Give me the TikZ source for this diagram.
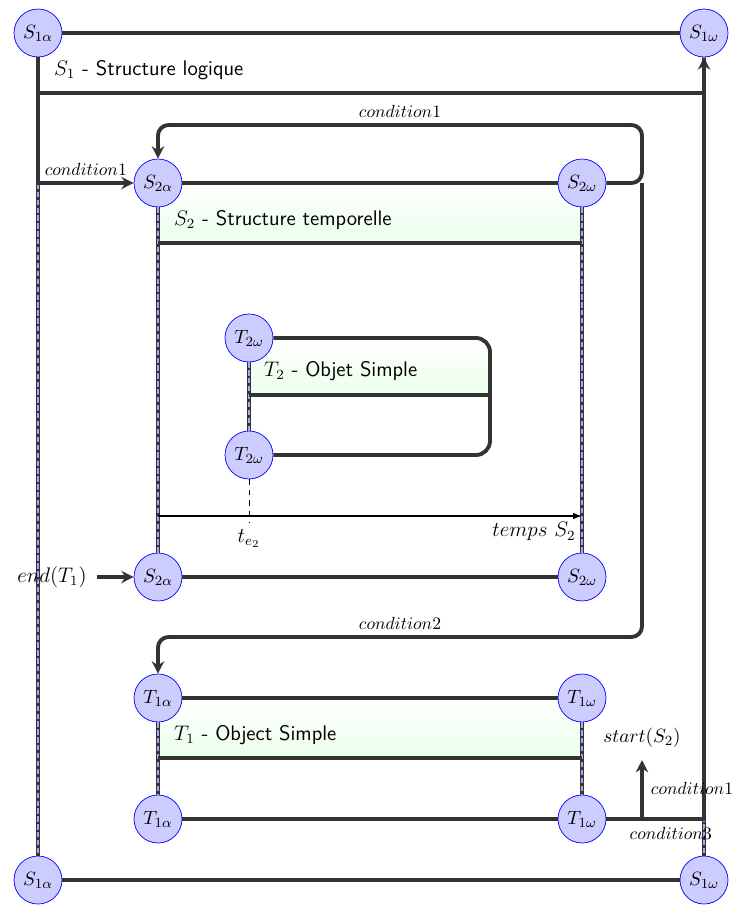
\documentclass[tikz,border=0pt]{standalone}
\usepackage{tikz}
\usetikzlibrary{arrows.meta,calc}

\begin{document}
\begin{tikzpicture}[x=0.02cm,y=-0.02cm,>={Stealth[length=7pt,width=7pt]},
    st/.style={circle,draw=blue,fill=blue!20,minimum size=0.96cm,inner sep=0pt,font=\fontsize{11}{13}\selectfont},
    flow/.style={line width=2.2pt,draw=black!80},
    life/.style={line width=2.4pt,draw=black!80,postaction={draw=blue!35,line width=0.8pt,dash pattern=on 3pt off 1.5pt}},
    band/.style={top color=white,bottom color=green!8,draw=none},
    lbl/.style={anchor=west,font=\sffamily\large},
    cnd/.style={font=\normalsize}]
    \useasboundingbox (0,0) rectangle (734,907);
    % green bands behind the titles
    \shade[band] (158,183) rectangle (582,243);
    \shade[band] (249,338) rectangle (490,395);
    \shade[band] (158,698) rectangle (582,758);
    % states
    \node[st] (s1a) at (38,33) {$S_{1\alpha}$};
    \node[st] (s1w) at (704,33) {$S_{1\omega}$};
    \node[st] (s1ab) at (38,880) {$S_{1\alpha}$};
    \node[st] (s1wb) at (704,880) {$S_{1\omega}$};
    \node[st] (s2a) at (158,183) {$S_{2\alpha}$};
    \node[st] (s2w) at (582,183) {$S_{2\omega}$};
    \node[st] (s2ab) at (158,577) {$S_{2\alpha}$};
    \node[st] (s2wb) at (582,577) {$S_{2\omega}$};
    \node[st] (t2w) at (249,338) {$T_{2\omega}$};
    \node[st] (t2wb) at (249,455) {$T_{2\omega}$};
    \node[st] (t1a) at (158,698) {$T_{1\alpha}$};
    \node[st] (t1w) at (582,698) {$T_{1\omega}$};
    \node[st] (t1ab) at (158,819) {$T_{1\alpha}$};
    \node[st] (t1wb) at (582,819) {$T_{1\omega}$};
    % lifetimes
    \draw[life] (s1a) -- (s1ab);
    \draw[life] (s1w) -- (s1wb);
    \draw[life] (s2a) -- (s2ab);
    \draw[life] (s2w) -- (s2wb);
    \draw[life] (t2w) -- (t2wb);
    \draw[life] (t1a) -- (t1ab);
    \draw[life] (t1w) -- (t1wb);
    % titles
    \node[lbl] (l1) at (48,70) {$S_1$ - Structure logique};
    \node[lbl] (l2) at (168,220) {$S_2$ - Structure temporelle};
    \node[lbl] (l3) at (258,371) {$T_2$ - Objet Simple};
    \node[lbl] (l4) at (168,735) {$T_1$ - Object Simple};
    % box lines
    \coordinate (b1l) at (38,93);
    \coordinate (b1r) at (704,93);
    \coordinate (b2l) at (158,243);
    \coordinate (b2r) at (582,243);
    \coordinate (b4l) at (158,758);
    \coordinate (b4r) at (582,758);
    \coordinate (t2c1) at (490,338);
    \coordinate (t2c2) at (490,455);
    \coordinate (t2m) at (490,395);
    \coordinate (t2l) at (249,395);
    \draw[flow] (s1a) -- (s1w);
    \draw[flow] (s1ab) -- (s1wb);
    \draw[flow] (b1l) -- (b1r);
    \draw[flow] (s2a) -- (s2w);
    \draw[flow] (s2ab) -- (s2wb);
    \draw[flow] (b2l) -- (b2r);
    \draw[flow] (t1a) -- (t1w);
    \draw[flow] (t1ab) -- (t1wb);
    \draw[flow] (b4l) -- (b4r);
    \draw[flow,rounded corners=8pt] (t2w) -- (t2c1) -- (t2c2) -- (t2wb);
    \draw[flow] (t2l) -- (t2m);
    % conditions
    \coordinate (k1) at (642,183);
    \coordinate (k2) at (642,125);
    \coordinate (k3) at (158,125);
    \coordinate (k4) at (642,637);
    \coordinate (k5) at (158,637);
    \coordinate (k6) at (642,819);
    \coordinate (k7) at (642,760);
    \draw[flow,->] (s1a) |- (s2a) node[pos=0.75,above,cnd]{$condition1$};
    \draw[flow,->,rounded corners=6pt] (s2w) -- (k1) -- (k2) -- (k3) node[midway,above,cnd]{$condition1$} -- (s2a);
    \draw[flow,->,rounded corners=6pt] (k1) -- (k4) -- (k5) node[midway,above,cnd]{$condition2$} -- (t1a);
    \draw[flow,->] (t1wb) -| (s1w)
      node[pos=0.33,below,cnd]{$condition3$}
      node[pos=0.52,xshift=-0.24cm,cnd]{$condition1$};
    \draw[flow,->] (k6) -- (k7) node[above=3pt,font=\fontsize{11}{13}\selectfont]{$start(S_2)$};
    \node[font=\large,inner sep=6pt] (e1) at (52,577) {$end(T_1)$};
    \draw[flow,->] (e1) -- (s2ab);
    % time of S2
    \coordinate (ax0) at (158,516);
    \coordinate (ax1) at (582,516);
    \coordinate (te) at (249,523);
    \draw[line width=0.8pt,-{Latex[length=5pt]}] (ax0) -- (ax1) node[below left,font=\large]{$temps~S_2$};
    \draw[dashed] (t2wb) -- (te) node[below,font=\large]{$t_{e_2}$};
\end{tikzpicture}
\end{document}
